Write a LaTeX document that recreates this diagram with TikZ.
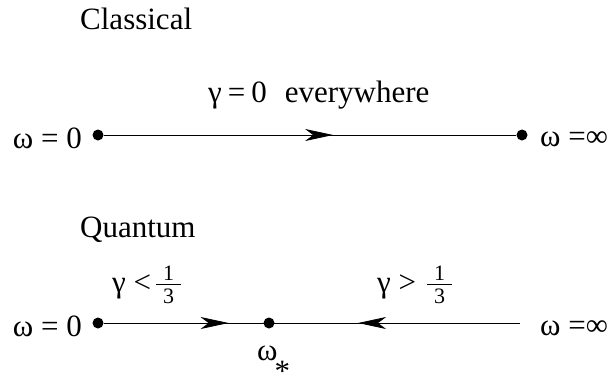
\documentclass[tikz,border=0pt]{standalone}
\usepackage{fontspec}
\setmainfont{Liberation Serif}
\usepackage{tikz}
\usetikzlibrary{arrows.meta,decorations.markings}
% small fraction one third, stacked by hand in the text font
\newcommand{\onethird}{\raisebox{-11bp}{\vbox{\offinterlineskip
  \fontsize{22bp}{22bp}\selectfont
  \hbox to 25bp{\hss 1\hss}\kern3bp
  \hrule width 25bp height 0.9bp\kern4bp
  \hbox to 25bp{\hss 3\hss}}}}

\begin{document}
\begin{tikzpicture}[x=1bp,y=-1bp,
  dot/.style={circle, fill=black, inner sep=0pt, minimum size=11bp},
  lbl/.style={inner sep=0pt, font=\fontsize{31bp}{36bp}\selectfont},
  flowline/.style={line width=0.8bp},
  fwd/.style={postaction={decorate, decoration={markings,
    mark=at position #1 with {\arrow{Stealth[length=28bp,width=12bp,inset=8bp]}}}}},
  bwd/.style={postaction={decorate, decoration={markings,
    mark=at position #1 with {\arrowreversed{Stealth[length=28bp,width=12bp,inset=8bp]}}}}}]
  \useasboundingbox (0,0) rectangle (616,379);
  % Classical line
  \node[lbl, anchor=base west] (classical) at (80,29) {Classical};
  \node[dot] (c0) at (98,135) {};
  \node[dot] (cinf) at (522,135) {};
  \draw[flowline, fwd=0.556] (c0) -- (cinf);
  \node[lbl, anchor=base west] (gzero) at (208,102)
    {γ\hspace{6bp}=\hspace{6bp}0\hspace{18bp}everywhere};
  \node[lbl, anchor=base east] (c0lbl) at (82,148) {ω = 0};
  \node[lbl, anchor=base west] (cinflbl) at (540,146) {ω =∞};
  % Quantum line
  \node[lbl, anchor=base west] (quantum) at (80,237) {Quantum};
  \node[dot] (q0) at (98,323) {};
  \node[dot] (qstar) at (269,323) {};
  \coordinate (qend) at (520,323);
  \draw[flowline, fwd=0.30, bwd=0.611] (q0) -- (qend);
  \node[lbl, anchor=base west] (gless) at (112,292) {γ <\hspace{5bp}\onethird};
  \node[lbl, anchor=base west] (gmore) at (377,292) {γ >\hspace{11bp}\onethird};
  \node[lbl, anchor=base east] (q0lbl) at (82,336) {ω = 0};
  \node[lbl, anchor=base west] (qinflbl) at (540,335) {ω =∞};
  \node[lbl, anchor=base west] (qstarlbl) at (257,360)
    {ω\kern-3bp\raisebox{-21bp}[\height][0pt]{*}};
\end{tikzpicture}
\end{document}
